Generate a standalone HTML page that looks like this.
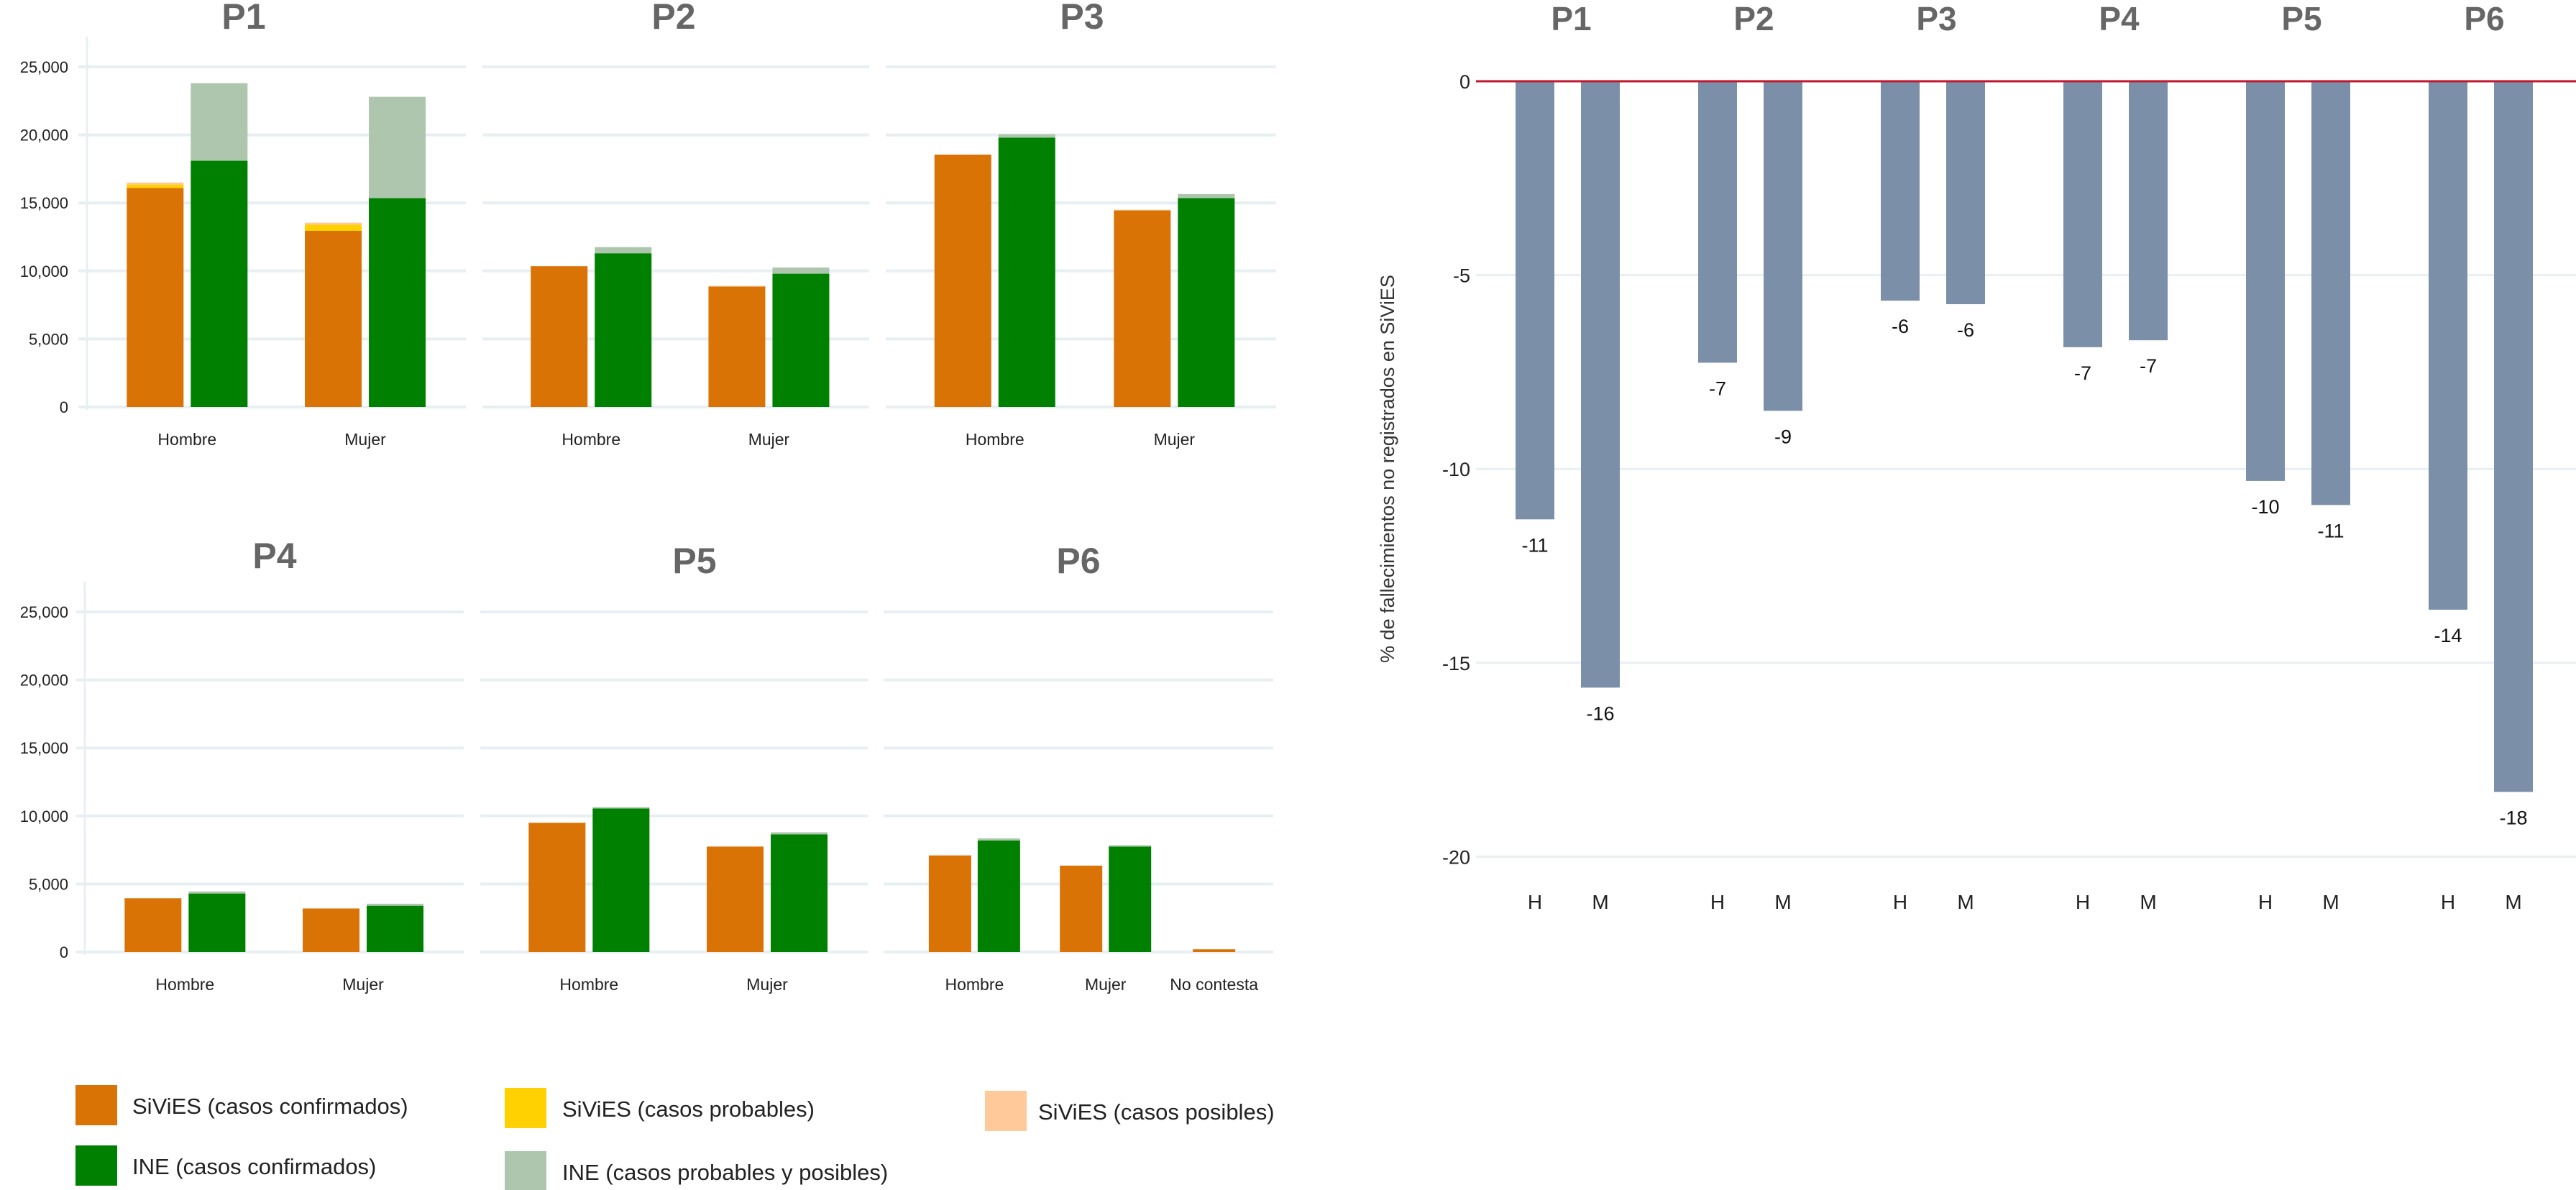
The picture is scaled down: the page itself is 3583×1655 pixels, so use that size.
<!DOCTYPE html>
<html><head><meta charset="utf-8"><style>
html,body{margin:0;padding:0;background:#fff;}
svg{display:block;font-family:"Liberation Sans",sans-serif;}
</style></head><body>
<svg id="c" width="3583" height="1655" viewBox="0 0 3583 1655" xmlns="http://www.w3.org/2000/svg"></svg>
<script>
// ---- Left small multiples data ----
const panels = ["P1","P2","P3","P4","P5","P6"];
const leftTicks = [0,5000,10000,15000,20000,25000];
const sivConf = [[16100,12950],[10350,8850],[18550,14450],[3950,3200],[9500,7750],[7100,6350,200]];
const sivProb = [[250,450],[0,0],[0,0],[0,0],[0,0],[0,0,0]];
const sivPos  = [[150,150],[0,50],[0,50],[0,0],[0,0],[0,0,0]];
const ineConf = [[18100,15350],[11300,9800],[19800,15350],[4300,3400],[10550,8650],[8200,7750,0]];
const ineProbPos = [[5700,7450],[450,450],[250,300],[150,150],[100,150],[150,100,0]];
const catsTwo = ["Hombre","Mujer"];
const catsThree = ["Hombre","Mujer","No contesta"];
// ---- Right chart data ----
const pctH = [-11.3,-7.26,-5.66,-6.86,-10.31,-13.63];
const pctM = [-15.64,-8.5,-5.75,-6.68,-10.93,-18.33];
const pctLabH = ["-11","-7","-6","-7","-10","-14"];
const pctLabM = ["-16","-9","-6","-7","-11","-18"];
const rightTicks = [0,-5,-10,-15,-20];

const NS="http://www.w3.org/2000/svg";
const svg=document.getElementById('c');
function mk(tag,attrs,parent){const e=document.createElementNS(NS,tag);for(const k in attrs)e.setAttribute(k,attrs[k]);(parent||svg).appendChild(e);return e;}
function txt(s,attrs,parent){const e=mk('text',attrs,parent);e.textContent=s;return e;}

const C={sc:"#d97306",sp:"#ffd100",spo:"#ffc999",ic:"#008000",ipp:"#adc6ad"};
// panel geometry
const pgeo=[
 {x0:121,x1:648,base:566,tx:339,ty:22},
 {x0:683,x1:1209,base:566,tx:937,ty:22},
 {x0:1244,x1:1775,base:566,tx:1505,ty:22},
 {x0:118,x1:645,base:1324,tx:382,ty:772},
 {x0:680,x1:1207,base:1324,tx:966,ty:779},
 {x0:1241,x1:1771,base:1324,tx:1500,ty:779}];
const pxPer = 473/25000;
function yL(base,v){return base - v*pxPer;}
function fmt(n){return n.toString().replace(/\B(?=(\d{3})+(?!\d))/g,",");}

panels.forEach((p,i)=>{
  const g=pgeo[i];
  const grp=mk('g',{});
  
  
  leftTicks.forEach(t=>{
    const gl=mk('line',{x1:g.x0-12,x2:g.x1,y1:yL(g.base,t),y2:yL(g.base,t),stroke:"#e8eff3","stroke-width":4},grp);
    
    
    if(i%3===0){
      const tl=txt(fmt(t),{x:95,y:yL(g.base,t)+8,"text-anchor":"end","font-size":22,fill:"#222"},grp);
      
      
    }
  });
  if(i%3===0){
    const ax=mk('line',{x1:g.x0,x2:g.x0,y1:g.base-515,y2:g.base+4,stroke:"#e8eff3","stroke-width":3},grp);
    
    
  }
  const tt=txt(p,{x:g.tx,y:g.ty+18,"text-anchor":"middle","font-size":50,"font-weight":"bold",fill:"#666"},grp);
  
  
  const cats = sivConf[i].length===3?catsThree:catsTwo;
  const n=cats.length;
  const W=g.x1-g.x0;
  let bw, gap, starts;
  if(n===2){bw=79;gap=10;starts=[g.x0+W*0.105,g.x0+W*0.575];}
  else{bw=59;gap=9;starts=[g.x0+W*0.096,g.x0+W*0.44,g.x0+W*0.789];}
  cats.forEach((c,j)=>{
    const sx=starts[j];
    let v0=0;
    [[sivConf[i][j],C.sc,'sivies-confirmed'],[sivProb[i][j],C.sp,'sivies-probable'],[sivPos[i][j],C.spo,'sivies-possible']].forEach(([v,col,nm])=>{
      if(v>0){const r=mk('rect',{x:sx,width:bw,y:yL(g.base,v0+v),height:v*pxPer,fill:col},grp);
        
        }
      v0+=v;});
    v0=0;
    [[ineConf[i][j],C.ic,'ine-confirmed'],[ineProbPos[i][j],C.ipp,'ine-probable-possible']].forEach(([v,col,nm])=>{
      if(v>0){const r=mk('rect',{x:sx+bw+gap,width:bw,y:yL(g.base,v0+v),height:v*pxPer,fill:col},grp);
        
        }
      v0+=v;});
    const cx = n===3 && j===2 ? sx+bw/2 : sx+bw+gap/2;
    const xl=txt(c,{x:cx,y:g.base+53,"text-anchor":"middle","font-size":23,fill:"#222"},grp);
    
    
  });
});

// legend
const legend=[
 ["SiViES (casos confirmados)",C.sc,105,1509,184],
 ["SiViES (casos probables)",C.sp,702,1513,782],
 ["SiViES (casos posibles)",C.spo,1370,1517,1444],
 ["INE (casos confirmados)",C.ic,105,1593,184],
 ["INE (casos probables y posibles)",C.ipp,702,1601,782]];
legend.forEach(([l,col,x,y,tx])=>{
  const g=mk('g',{});
  
  
  mk('rect',{x:x,y:y,width:58,height:56,fill:col},g);
  txt(l,{x:tx,y:y+40,"font-size":31,fill:"#222"},g);
});

// right chart
const R={x0:2053,x1:3583,zeroY:113,per5:269.6,g0:2135,step:254,off:45.5,bw:54};
function yR(v){return R.zeroY - v/5*R.per5;}
const rg=mk('g',{});


rightTicks.forEach(t=>{
  if(t!==0){const l=mk('line',{x1:R.x0,x2:R.x1,y1:yR(t),y2:yR(t),stroke:"#e8eff3","stroke-width":3},rg);
    
    }
  const tl=txt(String(t),{x:2045,y:yR(t)+10,"text-anchor":"end","font-size":27,fill:"#222"},rg);
  
  
});
panels.forEach((p,i)=>{
  const cx=R.g0+i*R.step+R.off;
  const t=txt(p,{x:R.g0+i*R.step+R.off+5,y:42,"text-anchor":"middle","font-size":46,"font-weight":"bold",fill:"#666"},rg);
  
  
  [[pctH[i],pctLabH[i],"H",-R.off],[pctM[i],pctLabM[i],"M",R.off]].forEach(([v,lab,k,d])=>{
    const bx=cx+d-R.bw/2;
    const r=mk('rect',{x:bx,y:yR(0),width:R.bw,height:yR(v)-yR(0),fill:"#7b90a8"},rg);
    
    
    const vl=txt(lab,{x:cx+d,y:yR(v)+45,"text-anchor":"middle","font-size":27,fill:"#111"},rg);
    
    
    const xl=txt(k,{x:cx+d,y:1264,"text-anchor":"middle","font-size":28,fill:"#222"},rg);
    
    
  });
});
const zl=mk('line',{x1:R.x0,x2:R.x1,y1:yR(0),y2:yR(0),stroke:"#c0182f","stroke-width":3},rg);


const yt=txt("% de fallecimientos no registrados en SiViES",{x:0,y:0,transform:"translate(1939,652) rotate(-90)","text-anchor":"middle","font-size":27,fill:"#333"},rg);


</script>
</body></html>
